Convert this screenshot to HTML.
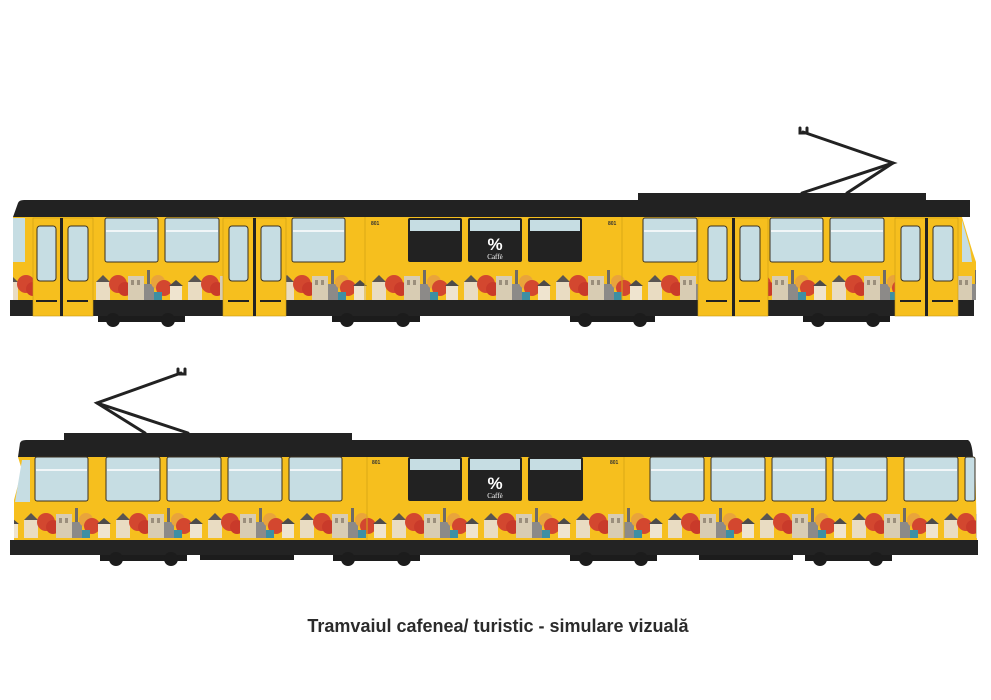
<!DOCTYPE html>
<html><head><meta charset="utf-8"><style>
html,body{margin:0;padding:0;background:#fff;width:991px;height:700px;overflow:hidden}
svg{display:block}
</style></head><body>
<svg width="991" height="700" viewBox="0 0 991 700" xmlns="http://www.w3.org/2000/svg">
<defs>
<pattern id="sky1" patternUnits="userSpaceOnUse" x="0" y="262" width="92" height="38">
 <rect x="4" y="20" width="14" height="18" fill="#e9dcc2"/><polygon points="4,20 11,13 18,20" fill="#5a5552"/>
 <circle cx="26" cy="22" r="9" fill="#d3472f"/><circle cx="33" cy="27" r="7" fill="#c93a2a"/>
 <rect x="36" y="14" width="16" height="24" fill="#d8ccb3"/><rect x="39" y="18" width="3" height="5" fill="#9b8f7c"/><rect x="45" y="18" width="3" height="5" fill="#9b8f7c"/>
 <rect x="52" y="22" width="10" height="16" fill="#8c8a88"/><rect x="55" y="8" width="3" height="14" fill="#6e6a66"/>
 <circle cx="66" cy="20" r="7" fill="#e9a43b"/><circle cx="72" cy="26" r="8" fill="#d3472f"/>
 <rect x="62" y="30" width="8" height="8" fill="#3d8fa3"/>
 <rect x="78" y="24" width="12" height="14" fill="#efe4cf"/><polygon points="77,24 84,18 91,24" fill="#4d4b4a"/>
</pattern>
<pattern id="sky2" patternUnits="userSpaceOnUse" x="20" y="500" width="92" height="38">
 <rect x="4" y="20" width="14" height="18" fill="#e9dcc2"/><polygon points="4,20 11,13 18,20" fill="#5a5552"/>
 <circle cx="26" cy="22" r="9" fill="#d3472f"/><circle cx="33" cy="27" r="7" fill="#c93a2a"/>
 <rect x="36" y="14" width="16" height="24" fill="#d8ccb3"/><rect x="39" y="18" width="3" height="5" fill="#9b8f7c"/><rect x="45" y="18" width="3" height="5" fill="#9b8f7c"/>
 <rect x="52" y="22" width="10" height="16" fill="#8c8a88"/><rect x="55" y="8" width="3" height="14" fill="#6e6a66"/>
 <circle cx="66" cy="20" r="7" fill="#e9a43b"/><circle cx="72" cy="26" r="8" fill="#d3472f"/>
 <rect x="62" y="30" width="8" height="8" fill="#3d8fa3"/>
 <rect x="78" y="24" width="12" height="14" fill="#efe4cf"/><polygon points="77,24 84,18 91,24" fill="#4d4b4a"/>
</pattern>
</defs>

<!-- ===== TRAM 1 ===== -->
<g stroke="#222" stroke-width="3" fill="none" stroke-linecap="round">
 <polyline points="803,132 893,163 802,193"/><line x1="893" y1="163" x2="847" y2="193"/>
 <path d="M800,128 v5 h7 v-5"/>
</g>
<rect x="638" y="193" width="288" height="10" fill="#222"/>
<path d="M18,203 Q19,200 24,200 L970,200 L970,217 L13,217 Z" fill="#222"/>
<path d="M13,217 L962,217 L972,250 L976,262 L976,300 L13,300 Z" fill="#f6bf1e"/>
<rect x="13" y="262" width="963" height="38" fill="url(#sky1)"/>
<rect x="10" y="300" width="964" height="16" fill="#232323"/>
<path d="M962,220 L970,248 L972,262 L962,262 Z" fill="#c6dde3"/>
<rect x="13" y="218" width="12" height="44" fill="#c6dde3"/>
<!-- doors -->
<g fill="#f6bf1e" stroke="#c99a14" stroke-width="0.6">
<rect x="33" y="218" width="60" height="98"/><rect x="223" y="218" width="63" height="98"/>
<rect x="698" y="218" width="70" height="98"/><rect x="895" y="218" width="63" height="98"/>
</g>
<g fill="#222"><rect x="60" y="218" width="3" height="98"/><rect x="253" y="218" width="3" height="98"/><rect x="732" y="218" width="3" height="98"/><rect x="925" y="218" width="3" height="98"/></g>
<g fill="#c6dde3" stroke="#3a3020" stroke-width="1">
<rect x="37" y="226" width="19" height="55" rx="3"/><rect x="68" y="226" width="20" height="55" rx="3"/>
<rect x="229" y="226" width="19" height="55" rx="3"/><rect x="261" y="226" width="20" height="55" rx="3"/>
<rect x="708" y="226" width="19" height="55" rx="3"/><rect x="740" y="226" width="20" height="55" rx="3"/>
<rect x="901" y="226" width="19" height="55" rx="3"/><rect x="933" y="226" width="20" height="55" rx="3"/>
<rect x="105" y="218" width="53" height="44" rx="2"/><rect x="165" y="218" width="54" height="44" rx="2"/><rect x="292" y="218" width="53" height="44" rx="2"/>
<rect x="643" y="218" width="54" height="44" rx="2"/><rect x="770" y="218" width="53" height="44" rx="2"/><rect x="830" y="218" width="54" height="44" rx="2"/>
</g>
<g stroke="#fff" stroke-width="1.5"><line x1="106" y1="231" x2="157" y2="231"/><line x1="166" y1="231" x2="218" y2="231"/><line x1="293" y1="231" x2="344" y2="231"/><line x1="644" y1="231" x2="696" y2="231"/><line x1="771" y1="231" x2="822" y2="231"/><line x1="831" y1="231" x2="883" y2="231"/></g>
<g stroke="#222" stroke-width="2"><line x1="36" y1="301" x2="57" y2="301"/><line x1="67" y1="301" x2="88" y2="301"/><line x1="228" y1="301" x2="249" y2="301"/><line x1="260" y1="301" x2="281" y2="301"/><line x1="706" y1="301" x2="727" y2="301"/><line x1="739" y1="301" x2="760" y2="301"/><line x1="900" y1="301" x2="921" y2="301"/><line x1="932" y1="301" x2="953" y2="301"/></g>
<g fill="#222"><rect x="408" y="218" width="54" height="44" rx="2"/><rect x="468" y="218" width="54" height="44" rx="2"/><rect x="528" y="218" width="54" height="44" rx="2"/></g>
<g fill="#c6dde3"><rect x="410" y="220" width="50" height="11"/><rect x="470" y="220" width="50" height="11"/><rect x="530" y="220" width="50" height="11"/></g>
<text x="495" y="250" fill="#fff" font-family="Liberation Sans,sans-serif" font-weight="bold" font-size="17" text-anchor="middle">%</text>
<text x="495" y="259" fill="#fff" font-family="Liberation Serif,serif" font-size="7" text-anchor="middle">Caffè</text>
<g fill="#333" font-family="Liberation Sans,sans-serif" font-size="5" font-weight="bold"><text x="371" y="225">801</text><text x="608" y="225">801</text></g>
<g stroke="#d9a817" stroke-width="1"><line x1="365" y1="217" x2="365" y2="300"/><line x1="622" y1="217" x2="622" y2="300"/></g>
<g fill="#1c1c1c">
<rect x="98" y="316" width="87" height="6"/><circle cx="113" cy="320" r="7"/><circle cx="168" cy="320" r="7"/>
<rect x="332" y="316" width="88" height="6"/><circle cx="347" cy="320" r="7"/><circle cx="403" cy="320" r="7"/>
<rect x="570" y="316" width="85" height="6"/><circle cx="585" cy="320" r="7"/><circle cx="640" cy="320" r="7"/>
<rect x="803" y="316" width="87" height="6"/><circle cx="818" cy="320" r="7"/><circle cx="873" cy="320" r="7"/>
</g>

<!-- ===== TRAM 2 ===== -->
<g stroke="#222" stroke-width="3" fill="none" stroke-linecap="round">
 <polyline points="181,373 97,403 145,433"/><line x1="97" y1="403" x2="188" y2="433"/>
 <path d="M178,369 v5 h7 v-5"/>
</g>
<rect x="64" y="433" width="288" height="10" fill="#222"/>
<path d="M20,443 Q21,440 26,440 L968,440 Q972,442 973,457 L18,457 Z" fill="#222"/>
<path d="M18,457 L975,457 L977,540 L14,540 L14,500 L22,470 Z" fill="#f6bf1e"/>
<rect x="14" y="500" width="963" height="40" fill="url(#sky2)"/>
<rect x="10" y="540" width="968" height="15" fill="#232323"/>
<path d="M22,460 L30,460 L30,502 L15,502 Z" fill="#c6dde3"/>
<g fill="#c6dde3" stroke="#3a3020" stroke-width="1">
<rect x="35" y="457" width="53" height="44" rx="2"/><rect x="106" y="457" width="54" height="44" rx="2"/><rect x="167" y="457" width="54" height="44" rx="2"/><rect x="228" y="457" width="54" height="44" rx="2"/><rect x="289" y="457" width="53" height="44" rx="2"/>
<rect x="650" y="457" width="54" height="44" rx="2"/><rect x="711" y="457" width="54" height="44" rx="2"/><rect x="772" y="457" width="54" height="44" rx="2"/><rect x="833" y="457" width="54" height="44" rx="2"/><rect x="904" y="457" width="54" height="44" rx="2"/><rect x="965" y="457" width="10" height="44" rx="2"/>
</g>
<g stroke="#fff" stroke-width="1.5"><line x1="36" y1="470" x2="87" y2="470"/><line x1="107" y1="470" x2="159" y2="470"/><line x1="168" y1="470" x2="220" y2="470"/><line x1="229" y1="470" x2="281" y2="470"/><line x1="290" y1="470" x2="341" y2="470"/><line x1="651" y1="470" x2="703" y2="470"/><line x1="712" y1="470" x2="764" y2="470"/><line x1="773" y1="470" x2="825" y2="470"/><line x1="834" y1="470" x2="886" y2="470"/><line x1="905" y1="470" x2="957" y2="470"/></g>
<g fill="#222"><rect x="408" y="457" width="54" height="44" rx="2"/><rect x="468" y="457" width="54" height="44" rx="2"/><rect x="528" y="457" width="55" height="44" rx="2"/></g>
<g fill="#c6dde3"><rect x="410" y="459" width="50" height="11"/><rect x="470" y="459" width="50" height="11"/><rect x="530" y="459" width="51" height="11"/></g>
<text x="495" y="489" fill="#fff" font-family="Liberation Sans,sans-serif" font-weight="bold" font-size="17" text-anchor="middle">%</text>
<text x="495" y="498" fill="#fff" font-family="Liberation Serif,serif" font-size="7" text-anchor="middle">Caffè</text>
<g fill="#333" font-family="Liberation Sans,sans-serif" font-size="5" font-weight="bold"><text x="372" y="464">801</text><text x="610" y="464">801</text></g>
<g stroke="#d9a817" stroke-width="1"><line x1="367" y1="457" x2="367" y2="540"/><line x1="624" y1="457" x2="624" y2="540"/></g>
<g fill="#1c1c1c">
<rect x="100" y="555" width="87" height="6"/><circle cx="116" cy="559" r="7"/><circle cx="171" cy="559" r="7"/>
<rect x="200" y="555" width="94" height="5"/>
<rect x="333" y="555" width="87" height="6"/><circle cx="348" cy="559" r="7"/><circle cx="404" cy="559" r="7"/>
<rect x="570" y="555" width="87" height="6"/><circle cx="586" cy="559" r="7"/><circle cx="641" cy="559" r="7"/>
<rect x="699" y="555" width="94" height="5"/>
<rect x="805" y="555" width="87" height="6"/><circle cx="820" cy="559" r="7"/><circle cx="876" cy="559" r="7"/>
</g>

<text x="498" y="632" fill="#2b2b2b" font-family="Liberation Sans,sans-serif" font-weight="bold" font-size="18" text-anchor="middle">Tramvaiul cafenea/ turistic - simulare vizuală</text>
</svg>
</body></html>
